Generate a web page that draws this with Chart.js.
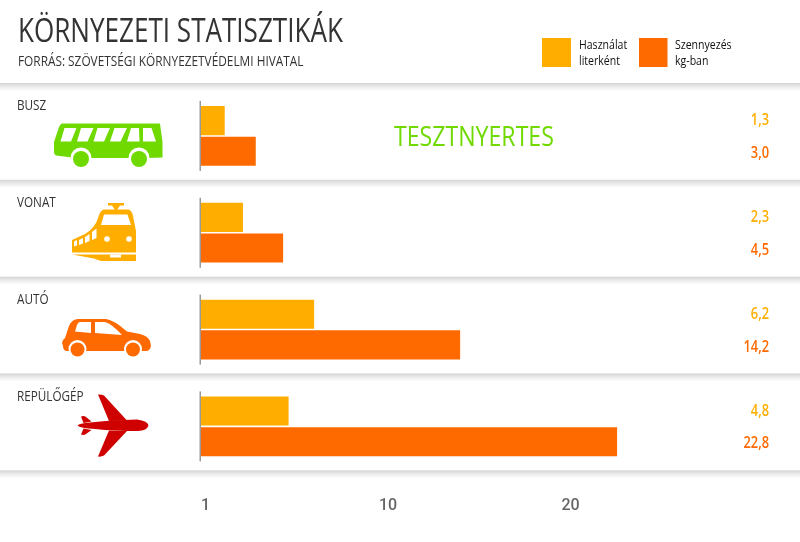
<!DOCTYPE html>
<html lang="hu"><head><meta charset="utf-8">
<style>
html,body{margin:0;padding:0;background:#fff;width:800px;height:542px;overflow:hidden}
#wrap{position:relative;width:800px;height:542px}
canvas{position:absolute;left:0;top:0}
svg{position:absolute;left:0;top:0;pointer-events:none}
.t{position:absolute;white-space:nowrap;font-family:"Open Sans",sans-serif;transform-origin:0 0}
#title{left:18px;top:8px;font-size:33px;line-height:44px;color:#333;transform:scaleX(.79)}
#sub{left:18px;top:52px;font-size:14px;line-height:18px;color:#333;transform:scaleX(.846)}
.lg{font-size:13.500px;line-height:16px;color:#111;transform:scaleX(.78)}
</style></head><body>
<div id="wrap">
<canvas id="c" width="800" height="542"></canvas>
<svg width="800" height="542" viewBox="0 0 800 542">
 <g fill="#6fd900">
  <path d="M62 123.5L160 123.5L160.500 127.500L162.500 142L162.500 157.500L147 158L131 158L89 158L72 157.500L56 155.500Q54 155 54 152L54 142L59 127Q60.500 123.500 62 123.500Z"/>
 </g>
 <g fill="#fff">
  <path d="M64.500 128L76.500 128L71 141.500L60.500 141.500Z"/><path d="M81 128L93.500 128L87.500 141.500L77 141.500Z"/>
  <path d="M97.500 128L110 128L104 141.500L93.500 141.500Z"/><path d="M114.500 128L127 128L120.500 141.500L110 141.500Z"/>
  <path d="M131 128L139 128L139.500 141.500L127 141.500Z"/><path d="M143 128L151.500 128L156 141.500L143 141.500Z"/>
  <circle cx="81" cy="158" r="10.500"/><circle cx="139" cy="158" r="10.500"/>
 </g>
 <g fill="#6fd900"><circle cx="81" cy="159" r="8"/><circle cx="139" cy="159" r="8"/></g>

 <g fill="#ffae00">
  <path d="M108 203H124V205.500H120L117 210H115L112 205.500H108Z"/>
  <path d="M104 209.500H128Q132 210 133 216L136 231V251L136 252.500L72 252.500L72 240L85 234Q95 228 98 218Q100 210 104 209.500Z"/>
  <path d="M72 254.500L136 254.500V261H101L94 258.500Z"/>
 </g>
 <g fill="#fff">
  <path d="M104 214.500H127.500L131 225H101Z"/>
  <circle cx="107" cy="239" r="2.800"/><circle cx="129" cy="239" r="2.800"/>
  <path d="M74 241.500L77 240L77 245.500L74 246.500Z"/><path d="M79 240L83 238L83 243.500L79 245Z"/>
  <path d="M85 237L89.500 234L89.500 241L85 243Z"/><path d="M92 232L96.500 228.500L96.500 238L92 240Z"/>
  <path d="M110 254.500H121V257.500H110Z"/>
 </g>

 <g fill="#ff6a00">
  <path d="M63 346L62 343Q62 340 65 338L69 326Q72 319 78 319L106 319Q114 320 127 331.500L140 334Q148 336 150 341L151 346Q150 351 146 351L66 351Q63 350 63 346Z"/>
 </g>
 <g fill="#fff">
  <path d="M75 331.500L77 325Q78 322 80 322L91 322L91 333Z"/><path d="M95 322L105 322Q112 324 122 335L95 333Z"/>
  <circle cx="77.500" cy="349" r="9"/><circle cx="133" cy="349" r="9"/>
 </g>
 <g fill="#ff6a00"><circle cx="77.500" cy="349.500" r="7"/><circle cx="133" cy="349.500" r="7"/></g>

 <g fill="#cf0000">
  <path d="M77.500 425.500Q79 423.500 90 422.500Q110 420 137 419.500Q148 421 148.500 425.500Q147 430.500 138 431Q115 431 95 429Q80 428 77.500 425.500Z"/>
  <path d="M98 394.500Q101 394 104 395.500L127 420.500L109 421Z"/>
  <path d="M98 456.500Q101 457 104 455.500L127 431L109 430.500Z"/>
  <path d="M81 416.500Q84 415.500 86 417L91.500 421.500L83.500 423Z"/>
  <path d="M81 434.500Q84 435.500 86 434L91.500 430L83.500 428.500Z"/>
 </g>
</svg>
<div class="t" id="title">KÖRNYEZETI STATISZTIKÁK</div>
<div class="t" id="sub">FORRÁS: SZÖVETSÉGI KÖRNYEZETVÉDELMI HIVATAL</div>
<div class="t lg" style="left:579px;top:36px">Használat<br>literként</div>
<div class="t lg" style="left:675px;top:36px">Szennyezés<br>kg-ban</div>
</div>
<script src="https://cdn.jsdelivr.net/npm/chart.js@4"></script>
<script>
const categories = ["BUSZ","VONAT","AUTÓ","REPÜLŐGÉP"];
const usageLitres = [1.3,2.3,6.2,4.8];
const pollutionKg = [3.0,4.5,14.2,22.8];
const seriesNames = ["Használat literként","Szennyezés kg-ban"];
const tickValues = [0,10,20];
const tickLabels = ["1","10","20"];
const winnerText = "TESZTNYERTES";

const FONT = '"Open Sans",sans-serif';
const AMBER = "#ffae00", ORANGE = "#ff6a00";

function squeezed(ctx,text,x,y,sx){
  ctx.save(); ctx.translate(x,y); ctx.scale(sx,1); ctx.fillText(text,0,0); ctx.restore();
}

const decor = {
  id:"decor",
  beforeDatasetsDraw(chart){
    const {ctx,scales:{x,y}} = chart;
    ctx.save();
    const step = y.getPixelForValue(1)-y.getPixelForValue(0);
    for(let i=0;i<=categories.length;i++){
      const top = y.getPixelForValue(i)-step/2-4.500;
      const g = ctx.createLinearGradient(0,top,0,top+8);
      g.addColorStop(0,"#d4d4d4"); g.addColorStop(.35,"#e6e6e6"); g.addColorStop(1,"#ffffff");
      ctx.fillStyle=g; ctx.fillRect(0,top,800,8);
    }
    ctx.fillStyle="#9a9a9a";
    const bx = x.getPixelForValue(0);
    categories.forEach((c,i)=>{
      const cy=y.getPixelForValue(i);
      ctx.fillRect(bx-1.500,cy-35,1.500,70);
    });
    ctx.restore();
  },
  afterDraw(chart){
    const {ctx,scales:{y}} = chart;
    ctx.save();
    ctx.textBaseline="middle";
    ctx.textAlign="left"; ctx.fillStyle="#333"; ctx.font='14px '+FONT;
    categories.forEach((c,i)=>squeezed(ctx,c,17,y.getPixelForValue(i)-29.5,.836));
    ctx.textAlign="right"; ctx.font='600 16.500px '+FONT;
    chart.data.datasets.forEach((ds,d)=>{
      const m=chart.getDatasetMeta(d);
      ctx.fillStyle=ds.backgroundColor;
      ds.data.forEach((v,i)=>squeezed(ctx,v.toFixed(1).replace(".",","),769,m.data[i].y+(d?2:0),.78));
    });
    ctx.textAlign="left"; ctx.fillStyle="#6fd900"; ctx.font='27px '+FONT;
    squeezed(ctx,winnerText,394,y.getPixelForValue(0)+2,.856);
    chart.data.datasets.forEach((ds,d)=>{
      ctx.fillStyle=ds.backgroundColor;
      ctx.fillRect(d?639:542,38,d?28.500:29,29);
    });
    ctx.restore();
  }
};

new Chart(document.getElementById("c"),{
  type:"bar",
  data:{labels:categories,datasets:[
    {label:seriesNames[0],data:usageLitres,backgroundColor:AMBER,categoryPercentage:.633,barPercentage:.95},
    {label:seriesNames[1],data:pollutionKg,backgroundColor:ORANGE,categoryPercentage:.633,barPercentage:.95}
  ]},
  options:{
    indexAxis:"y",responsive:false,animation:false,
    layout:{padding:{left:201,right:51.500,top:87.500,bottom:4}},
    plugins:{legend:{display:false},tooltip:{enabled:false}},
    scales:{
      y:{display:false},
      x:{min:0,max:30,
        grid:{display:false,drawTicks:false},border:{display:false},
        afterBuildTicks(a){a.ticks=tickValues.map(v=>({value:v}));},
        ticks:{autoSkip:false,maxRotation:0,padding:22,labelOffset:4.5,color:"#666",
          font:{family:'Roboto,sans-serif',size:16,weight:"500"},
          callback:(v)=>tickLabels[tickValues.indexOf(v)]}
      }
    }
  },
  plugins:[decor]
});
</script>
</body></html>
